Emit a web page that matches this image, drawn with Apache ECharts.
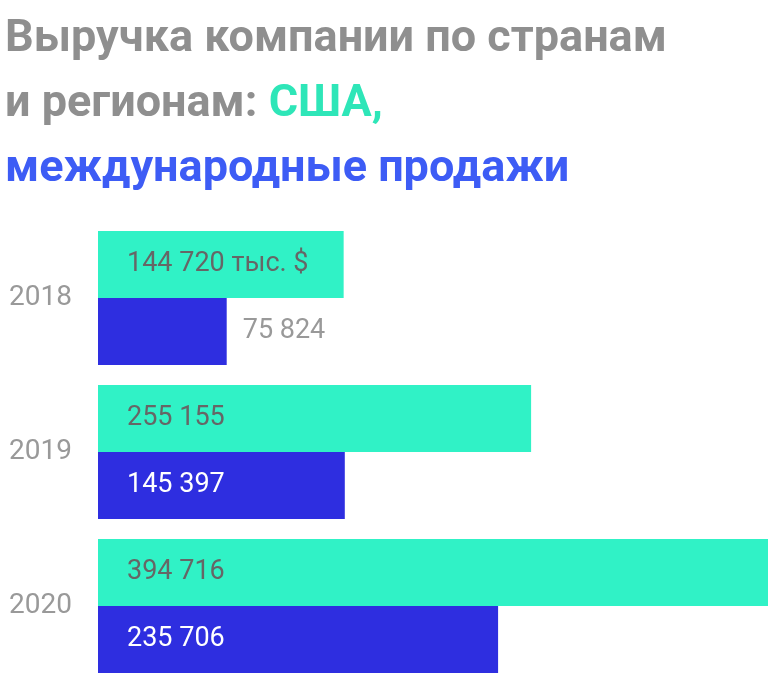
<!DOCTYPE html><html><head><meta charset="utf-8"><script src="https://cdn.jsdelivr.net/npm/echarts@6/dist/echarts.min.js"></script>
<style>html,body{margin:0;background:#fff}#c{width:768px;height:683px}</style></head><body><div id="c"></div><script>
const years=['2018','2019','2020'];
const usa=[144720,255155,394716];
const intl=[75824,145397,235706];
const fmt=v=>String(v).replace(/\B(?=(\d{3})+(?!\d))/g,' ');
const c=echarts.init(document.getElementById('c'));
const lbl={fontFamily:'Roboto',fontSize:27,color:'#666'};
const tf={fontFamily:'Roboto',fontWeight:'bold',fontSize:45,lineHeight:65};
c.setOption({
animation:false,
title:{left:0,top:2,text:'{g|Выручка компании по странам}\n{g|и регионам: }{t|США,}\n{b|международные продажи}',
 textStyle:{rich:{g:{...tf,color:'#8f8f8f'},t:{...tf,color:'#2ee6b8'},b:{...tf,color:'#3d5cf5'}}}},
grid:{left:98,right:0,top:221,height:474},
xAxis:{type:'value',min:0,max:394716,show:false},
yAxis:{type:'category',data:years,inverse:true,axisLine:{show:false},axisTick:{show:false},
 axisLabel:{fontFamily:'Roboto',fontSize:28,color:'#999',margin:26,padding:[0,0,66,0]}},
series:[
{type:'bar',data:usa,barWidth:67,barGap:'0%',itemStyle:{color:'#30f2c6'},
 label:{show:true,position:'insideLeft',distance:29,...lbl,formatter:p=>p.dataIndex===0?fmt(p.value)+' тыс. $':fmt(p.value)}},
{type:'bar',data:intl.map((v,i)=>i===0?{value:v,label:{position:'right',distance:16,color:'#999'}}:v),barWidth:67,itemStyle:{color:'#2e2ee0'},
 label:{show:true,position:'insideLeft',distance:29,...lbl,color:'#fff',formatter:p=>fmt(p.value)}}
]});
</script></body></html>
